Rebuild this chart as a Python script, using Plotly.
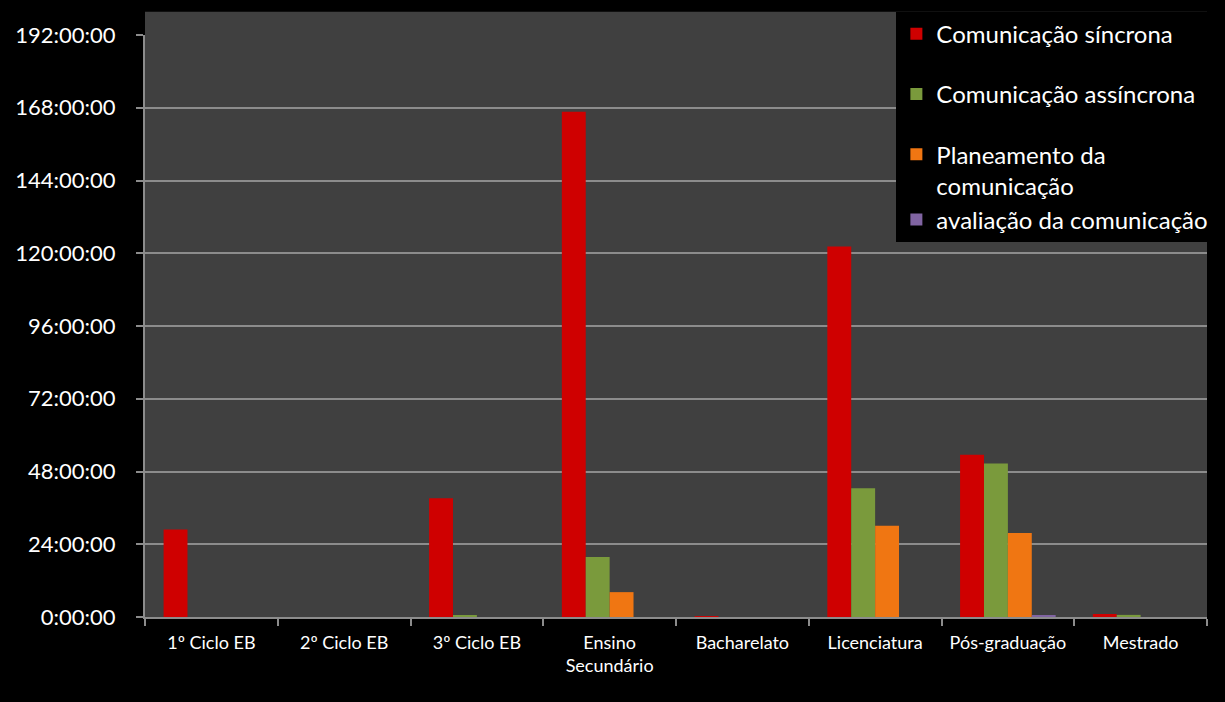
import plotly.graph_objects as go

categories = ["1º Ciclo EB", "2º Ciclo EB", "3º Ciclo EB", "Ensino<br>Secundário",
              "Bacharelato", "Licenciatura", "Pós-graduação", "Mestrado"]
# values in hours
sincrona = [28.9, 0, 39.2, 166.7, 0.15, 122.2, 53.5, 1.0]
assincrona = [0, 0, 0.5, 19.8, 0, 42.5, 50.6, 0.7]
planeamento = [0, 0, 0, 8.2, 0, 30.1, 27.7, 0]
avaliacao = [0, 0, 0, 0, 0, 0, 0.6, 0]

series_names = ["Comunicação síncrona", "Comunicação assíncrona",
                "Planeamento da<br>comunicação", "avaliação da comunicação"]
legend_groups = ["g0", "g1", "g2", "g2"]
tick_hours = [0, 24, 48, 72, 96, 120, 144, 168, 192]
tick_labels = [f"{h}:00:00" for h in tick_hours]

colors = ["#CF0000", "#7A9A3C", "#F07612", "#8064A2"]

fig = go.Figure()
for i, (name, vals) in enumerate(zip(series_names,
                                     [sincrona, assincrona, planeamento, avaliacao])):
    fig.add_trace(go.Bar(
        x=categories, y=vals, name=name, legendgroup=legend_groups[i],
        marker=dict(color=colors[i], line=dict(width=0)),
    ))

# gray plot background extending slightly above the top gridline
fig.add_shape(type="rect", xref="paper", yref="paper", x0=0, x1=1, y0=0, y1=1.04,
              fillcolor="#404040", line=dict(width=0), layer="below")

fig.update_layout(
    width=1225, height=702,
    paper_bgcolor="black", plot_bgcolor="rgba(0,0,0,0)",
    margin=dict(l=145, r=17, t=33, b=85),
    barmode="group", bargap=0.28, bargroupgap=0,
    font=dict(family="Lato, Open Sans, sans-serif", color="white"),
    legend=dict(
        x=1.006, xanchor="right", y=1.04, yanchor="top",
        bgcolor="black", borderwidth=0,
        font=dict(size=24, color="white"),
        traceorder="grouped", tracegroupgap=26, valign="top",
        itemwidth=30,
    ),
    showlegend=True,
)
fig.update_xaxes(
    showgrid=False, showline=True, linecolor="#8C8C8C", linewidth=2,
    ticks="outside", tickson="boundaries", ticklen=7, tickcolor="#8C8C8C", tickwidth=2,
    tickfont=dict(size=18, color="white"), ticklabelstandoff=8,
)
fig.update_yaxes(
    range=[0, 192], tickvals=tick_hours, ticktext=tick_labels,
    showgrid=True, gridcolor="#8C8C8C", gridwidth=2,
    showline=True, linecolor="#8C8C8C", linewidth=2,
    ticks="outside", ticklen=7, tickcolor="#8C8C8C", tickwidth=2,
    tickfont=dict(size=22, color="white"), ticklabelstandoff=16,
    zeroline=False,
)
fig.write_html("out.html")
